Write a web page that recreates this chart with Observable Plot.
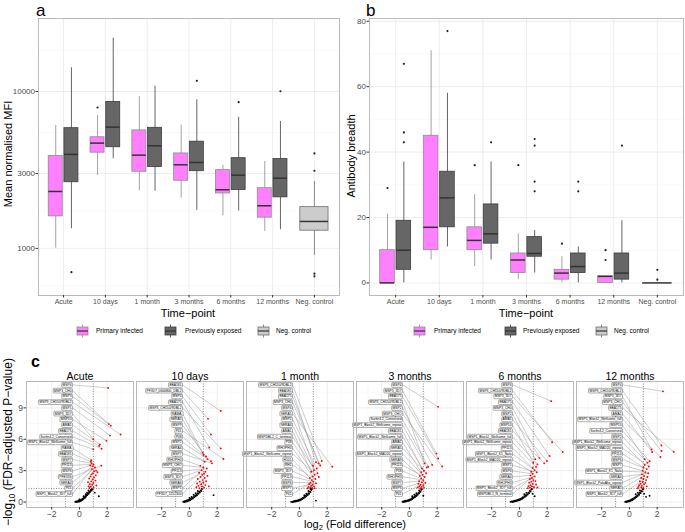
<!DOCTYPE html>
<html><head><meta charset="utf-8">
<script src="https://cdn.jsdelivr.net/npm/d3@7"></script>
<script src="https://cdn.jsdelivr.net/npm/@observablehq/plot@0.6"></script>
<style>
body{margin:0;background:#fff;font-family:"Liberation Sans",Arial,sans-serif;}
#root{position:relative;width:685px;height:532px;overflow:hidden;background:#fff;}
#root > svg{position:absolute;}
</style></head><body><div id="root"></div>
<script>
// ---------- Data: panels a & b ----------
const timepoints = ["Acute","10 days","1 month","3 months","6 months","12 months","Neg. control"];
const groups = ["Primary infected","Previously exposed","Neg. control"];
const groupFill = ["#ff80ff","#666666","#cccccc"];
const groupStroke = ["#8c8c8c","#3d3d3d","#6e6e6e"];

// [lower whisker, Q1, median, Q3, upper whisker] per time-point (Acute..12 months)
const mfiPrimary = [[1004,1600,2306,3890,6070],[2918,4075,4690,5110,7030],[2330,3080,3930,5650,9290],[2090,2700,3410,4030,6110],[1615,2240,2365,3155,3380],[1283,1570,1870,2420,3580]];
const mfiPrimaryOut = [[],[7910],[],[],[],[]];
const mfiExposed = [[1335,2640,3975,5840,14160],[3725,4415,5930,8590,21870],[2316,3300,4510,5870,10810],[1745,3105,3530,4790,8850],[1730,2355,2930,3760,6850],[1316,2115,2805,3710,6440]];
const mfiExposedOut = [[706],[],[],[11700],[8550],[10040]];
const mfiNeg = [902,1297,1485,1832,2675];
const mfiNegOut = [4030,3125,690,664];

const breadthPrimary = [[0,0,0,10,21],[7,10,17,45,71],[5,10,13,17,27],[1,3,7,9,15],[0,1,3,4,8],[0,0,2,2,2]];
const breadthPrimaryOut = [[29],[],[36],[36],[12],[10,7]];
const breadthExposed = [[0,4,10,19,37],[11,17,26,34,58],[7,12,15,24,37],[3,8,9,14,16],[0,3,5,9,11],[0,1,3,9,19]];
const breadthExposedOut = [[43,46,67],[77],[43],[28,31,42,44],[28,31],[42]];
const breadthNeg = [0,0,0,0,0];
const breadthNegOut = [4,1];

// ---------- Data: panel c ----------
const volcanoPanels = ["Acute","10 days","1 month","3 months","6 months","12 months"];
const redAcute = [[2.07,10.9],[2.12,7.45],[2.26,7.3],[2.97,6.45],[2.2,6.35],[1.0,6.0],[1.95,5.85],[1.47,5.5],[1.42,5.35],[1.6,5.1],[1.0,5.05],[0.85,4.0],[0.82,3.85],[0.88,3.7],[1.02,3.6],[1.58,3.48],[0.78,3.5],[0.95,3.42],[1.12,3.3],[0.9,3.15],[1.2,3.0],[1.05,2.95],[1.3,2.85],[0.98,2.75],[0.86,2.65],[1.18,2.55],[0.8,2.45],[1.05,2.35],[0.7,2.25],[0.95,2.15],[1.15,2.05],[0.85,1.98],[0.62,1.9],[1.0,1.82],[0.75,1.72],[0.92,1.65],[1.22,1.58],[0.66,1.52],[0.82,1.46],[1.02,1.4],[0.72,1.35]];
const blackAcute = [[-0.3,0.02],[-0.25,0.05],[-0.2,0.0],[-0.15,0.08],[-0.1,0.03],[-0.05,0.12],[0.0,0.06],[0.05,0.15],[0.1,0.1],[0.12,0.22],[0.18,0.18],[0.2,0.3],[0.25,0.25],[0.28,0.38],[0.32,0.33],[0.35,0.45],[0.4,0.4],[0.42,0.55],[0.46,0.5],[0.5,0.62],[0.52,0.7],[0.56,0.66],[0.6,0.78],[0.62,0.85],[0.66,0.8],[0.7,0.92],[0.72,1.0],[0.76,0.95],[0.8,1.08],[0.82,1.15],[0.86,1.1],[0.9,1.22],[0.95,1.2],[0.55,0.9],[0.45,0.75],[0.65,1.1],[0.3,0.55],[1.4,0.55],[1.1,0.9],[0.0,0.25]];
const labelsAcute = ["MSP4","MSP3_CH0","MSP3","MSP3_CH150/9DBL2","MSP1","MSP3_3D7","MSP10","AMA1","EBA175","Surfin4.2_Conserved","MSP1_Block2_Wellcome_full","RAMA","EBA181","MSP7","PF113","MSP6","PFEX36","SERA4","P41","MSP1_Block2_3D7_full"];

const red10d = [[2.26,8.7],[1.34,7.95],[1.55,6.45],[1.43,5.22],[2.26,5.13],[0.95,4.7],[1.02,4.5],[1.2,4.35],[2.45,4.12],[1.31,4.1],[1.55,3.9],[1.1,3.85],[1.62,3.7],[0.79,3.46],[1.0,3.3],[1.25,3.2],[0.88,3.05],[1.15,2.9],[0.7,2.8],[1.05,2.7],[0.92,2.6],[1.3,2.5],[0.8,2.4],[1.1,2.3],[0.6,2.2],[0.95,2.1],[1.2,2.0],[0.75,1.95],[1.0,1.85],[0.55,1.78],[0.85,1.7],[1.15,1.62],[0.65,1.55],[1.4,1.5],[0.9,1.48],[0.5,1.42],[1.05,1.38],[0.72,1.33]];
const black10d = [[-0.45,0.02],[-0.4,0.06],[-0.35,0.0],[-0.3,0.1],[-0.25,0.04],[-0.2,0.15],[-0.15,0.08],[-0.1,0.2],[-0.05,0.12],[0.0,0.25],[0.05,0.18],[0.1,0.32],[0.15,0.27],[0.2,0.4],[0.25,0.35],[0.3,0.5],[0.35,0.45],[0.4,0.6],[0.45,0.55],[0.5,0.72],[0.55,0.65],[0.6,0.85],[0.65,0.8],[0.7,0.98],[0.75,0.92],[0.8,1.12],[0.85,1.05],[0.9,1.25],[0.45,0.85],[0.3,0.7],[0.6,1.05],[1.74,0.66],[0.15,0.5],[0.0,0.4]];
const labels10d = ["EBA181","PF3D7_0606800_DBL2","MSP4","EBA175","MSP3_CH150/9DBL2","RAMA","SERA5","MSP9","P41","P38","MSP2","SERA4","MSP7","RHOPH3","MSP3_CHO","PF113","MSP3_3D7","SERA6","MSP1","PF3D7_1252300"];

const red1m = [[1.61,3.93],[1.2,3.8],[1.38,3.69],[1.5,3.5],[0.98,3.48],[2.37,3.37],[1.25,3.2],[1.05,3.05],[0.85,2.9],[1.3,2.75],[1.1,2.6],[0.95,2.45],[1.4,2.4],[0.75,2.3],[1.15,2.2],[0.9,2.1],[1.0,1.95],[0.8,1.85],[1.2,1.8],[0.7,1.72],[0.95,1.65],[0.85,1.55],[1.05,1.5],[0.65,1.45],[0.78,1.4],[0.92,1.36],[1.1,1.33],[0.6,1.32]];
const black1m = [[-0.6,0.02],[-0.5,0.0],[-0.45,0.06],[-0.4,0.03],[-0.35,0.1],[-0.3,0.05],[-0.25,0.12],[-0.2,0.08],[-0.15,0.15],[-0.1,0.1],[-0.05,0.2],[0.0,0.15],[0.05,0.25],[0.1,0.2],[0.15,0.32],[0.2,0.28],[0.25,0.4],[0.3,0.36],[0.35,0.5],[0.4,0.45],[0.45,0.6],[0.5,0.55],[0.55,0.72],[0.6,0.68],[0.65,0.85],[0.7,0.8],[0.75,1.0],[0.8,0.95],[0.85,1.15],[0.9,1.25],[1.19,0.14],[0.5,0.8],[0.35,0.65],[0.65,1.05],[0.8,1.25]];
const labels1m = ["MSP3_CH150/9DBL2","EBA181","EBA175","MSP3_CH0","MSP4","SERA5","MSP1","SERA4","AMA1","MSPDBL2_C_terminal","P38","RHOPH3","MSP1_Block2_Wellcome_repeat","H101","RH1","MSP3_3D7","PF113","MSP6","MSP7","P41"];

const red3m = [[2.07,9.1],[1.95,4.63],[2.07,4.16],[1.1,3.7],[1.64,3.55],[2.36,3.4],[1.36,3.38],[1.25,3.3],[0.9,3.2],[1.05,3.0],[0.85,2.85],[1.2,2.75],[0.95,2.6],[0.75,2.5],[1.1,2.4],[0.85,2.25],[1.0,2.1],[0.7,2.0],[0.9,1.9],[1.15,1.85],[0.65,1.75],[0.8,1.65],[1.0,1.6],[0.72,1.5],[0.88,1.45],[0.6,1.4],[1.05,1.38],[0.78,1.33]];
const black3m = [[-0.5,0.02],[-0.45,0.06],[-0.4,0.0],[-0.35,0.1],[-0.3,0.04],[-0.25,0.12],[-0.2,0.07],[-0.15,0.16],[-0.1,0.1],[-0.05,0.2],[0.0,0.14],[0.05,0.26],[0.1,0.2],[0.15,0.34],[0.2,0.28],[0.25,0.42],[0.3,0.38],[0.35,0.52],[0.4,0.47],[0.45,0.62],[0.5,0.58],[0.55,0.74],[0.6,0.7],[0.65,0.88],[0.7,0.84],[0.75,1.02],[0.8,0.98],[0.85,1.18],[0.9,1.22],[0.5,0.85],[0.35,0.7],[0.7,1.1],[1.0,0.6],[0.2,0.55]];
const labels3m = ["MSP4","MSP3_3D7","EBA175","MSP3_CH150/9DBL2","MSP2","MSP3_CHO","Surfin4.2_Conserved","MSP1_Block2_Wellcome_repeat","EBA181","MSP1_Block2_Wellcome_full","AMA1","SERA5","MSP1_Block2_MAD20_repeat","SERA9","PF113","P38","RHOPH3","MSP7","MSP6","P41"];

const red6m = [[2.29,9.64],[2.36,5.72],[3.12,4.78],[2.17,4.4],[1.45,4.2],[1.14,4.1],[1.98,3.93],[1.0,3.75],[1.79,3.7],[1.3,3.6],[1.2,3.35],[0.95,3.25],[1.1,3.05],[0.85,2.9],[1.25,2.85],[0.95,2.7],[0.8,2.55],[1.1,2.45],[0.9,2.3],[0.75,2.2],[1.0,2.1],[1.15,2.0],[0.85,1.95],[0.7,1.85],[0.95,1.75],[1.2,1.68],[0.8,1.6],[0.65,1.52],[0.9,1.48],[1.05,1.42],[1.3,1.4],[0.75,1.38],[0.6,1.33]];
const black6m = [[-0.64,0.02],[-0.55,0.05],[-0.5,0.0],[-0.45,0.08],[-0.4,0.04],[-0.35,0.12],[-0.3,0.07],[-0.25,0.16],[-0.2,0.1],[-0.15,0.2],[-0.1,0.14],[-0.05,0.25],[0.0,0.18],[0.05,0.3],[0.1,0.25],[0.15,0.38],[0.2,0.32],[0.25,0.46],[0.3,0.4],[0.35,0.55],[0.4,0.5],[0.45,0.65],[0.5,0.6],[0.55,0.76],[0.6,0.72],[0.65,0.9],[0.7,0.85],[0.75,1.05],[0.8,1.0],[0.85,1.2],[0.9,1.25],[0.5,0.9],[0.35,0.75],[1.1,0.55],[0.95,0.8]];
const labels6m = ["MSP4","MSP3_CH150/9DBL2","MSP3_3D7","EBA175","MSP3_CH0","MSP2","AMA1","MSP10","EBA181","MSP1_Block2_Wellcome_full","MSP1_Block2_Wellcome_repeat","PF113","MSP1_Block2_K1_Nala","MSP1_Block2_MAD20_repeat","MSP1","MSP6","SERA4","RHOPH3","MSP1_Block2_3D7_full","MSPDBL1_N_terminal"];

const red12m = [[2.42,10.58],[2.31,5.41],[1.59,5.03],[2.31,4.88],[3.19,4.81],[1.64,4.78],[2.24,4.31],[1.11,4.1],[1.45,3.9],[1.3,3.75],[1.1,3.55],[1.4,3.4],[1.0,3.3],[1.25,3.15],[0.95,3.0],[1.15,2.85],[1.35,2.75],[0.9,2.65],[1.05,2.5],[1.3,2.4],[0.85,2.3],[1.0,2.2],[1.2,2.1],[0.75,2.0],[0.95,1.92],[1.15,1.85],[0.8,1.75],[1.05,1.7],[0.7,1.6],[0.9,1.55],[1.25,1.5],[0.65,1.45],[0.85,1.4],[1.0,1.35],[0.6,1.32]];
const black12m = [[-0.31,0.02],[-0.25,0.05],[-0.2,0.0],[-0.15,0.09],[-0.1,0.04],[-0.05,0.13],[0.0,0.08],[0.05,0.18],[0.1,0.12],[0.15,0.24],[0.2,0.18],[0.25,0.32],[0.3,0.26],[0.35,0.42],[0.4,0.36],[0.45,0.52],[0.5,0.47],[0.55,0.64],[0.6,0.58],[0.65,0.76],[0.7,0.7],[0.75,0.9],[0.8,0.85],[0.85,1.05],[0.9,1.0],[0.95,1.2],[1.0,1.25],[0.6,0.9],[0.45,0.75],[0.75,1.1],[1.2,0.5],[1.05,0.8],[1.45,0.6]];
const labels12m = ["MSP4","MSP3_CH150/9DBL2","MSP3_3D7","MSP3_CHO","EBA175","AMA1","MSP1_Block2_Wellcome_full","MSP10","Surfin4.2_Conserved","MSP2","MSP1_Block2_Wellcome_repeat","MSP1_Block2_MAD20_repeat","PF113","MSP6","MSP7","MSP1_Block2_K1_Nala","SERA4","MSP1_Block2_PaloAlto_repeat","SERA5","MSP1_Block2_3D7_full"];

// ---------- Helpers ----------
const FONT = "Liberation Sans, Arial, sans-serif";
const root = document.getElementById("root");
function place(el, left, top){ el.style.left = left + "px"; el.style.top = top + "px"; root.appendChild(el); return el; }
const minus = d => d < 0 ? "\u2212" + (-d) : String(d);

const groupOffset = [-0.1875, 0.1875, 0];
const groupHalf = [0.1675, 0.1675, 0.3375];
function boxRows(primary, primaryOut, exposed, exposedOut, neg, negOut){
  const rows = [], outs = [];
  const add = (t, g, s, o) => {
    const c = t + groupOffset[g];
    rows.push({t, g, c, x1: c - groupHalf[g], x2: c + groupHalf[g], lo: s[0], q1: s[1], med: s[2], q3: s[3], hi: s[4]});
    o.forEach(v => outs.push({c, v}));
  };
  primary.forEach((s, t) => add(t, 0, s, primaryOut[t]));
  exposed.forEach((s, t) => add(t, 1, s, exposedOut[t]));
  add(6, 2, neg, negOut);
  return {rows, outs};
}

function boxChart({data, yOpts, yMajor, yMinor, marginLeft, marginRight, tickFmt}){
  const {rows, outs} = data;
  return Plot.plot({
    width: 345, height: 312, marginTop: 18, marginBottom: 17, marginLeft, marginRight,
    style: {fontFamily: FONT, background: "transparent", overflow: "visible"},
    x: {domain: [-0.6, 6.6]},
    y: yOpts,
    marks: [
      Plot.ruleY(yMinor, {stroke: "#f2f2f2", strokeWidth: 0.5}),
      Plot.ruleY(yMajor, {stroke: "#ebebeb", strokeWidth: 0.9}),
      Plot.ruleX(d3.range(7), {stroke: "#ebebeb", strokeWidth: 0.9}),
      Plot.ruleX(rows, {x: "c", y1: "lo", y2: "hi", stroke: d => groupStroke[d.g], strokeWidth: 0.8}),
      Plot.rect(rows, {x1: "x1", x2: "x2", y1: "q1", y2: "q3", fill: d => groupFill[d.g], stroke: d => groupStroke[d.g], strokeWidth: 0.8}),
      Plot.ruleY(rows, {x1: "x1", x2: "x2", y: "med", stroke: "#333333", strokeWidth: 1.5}),
      Plot.dot(outs, {x: "c", y: "v", r: 1.1, fill: "#222", stroke: null}),
      Plot.frame({stroke: "#b3b3b3", strokeWidth: 0.9}),
      Plot.axisX(d3.range(7), {tickFormat: i => timepoints[i], fontSize: 7, tickSize: 2.5, tickPadding: 1.5, label: null, stroke: "#333", fill: "#4d4d4d"}),
      Plot.axisY(yMajor, {tickFormat: tickFmt, fontSize: 8, tickSize: 2.5, tickPadding: 1, label: null, stroke: "#333", fill: "#4d4d4d"})
    ]
  });
}

// ---------- Panel a ----------
const chartA = boxChart({
  data: boxRows(mfiPrimary, mfiPrimaryOut, mfiExposed, mfiExposedOut, mfiNeg, mfiNegOut),
  yOpts: {type: "log", domain: [501, 29200]},
  yMajor: [1000, 3000, 10000], yMinor: [576, 1733, 5480, 18250],
  marginLeft: 38, marginRight: 6, tickFmt: d => String(d)
});
place(chartA, 0, 0);

// ---------- Panel b ----------
const chartB = boxChart({
  data: boxRows(breadthPrimary, breadthPrimaryOut, breadthExposed, breadthExposedOut, breadthNeg, breadthNegOut),
  yOpts: {domain: [-3.85, 80.85]},
  yMajor: [0, 20, 40, 60, 80], yMinor: [10, 30, 50, 70],
  marginLeft: 29, marginRight: 2, tickFmt: d => String(d)
});
place(chartB, 340, 0);

// ---------- Panel c ----------
const vData = [
  [redAcute, blackAcute, labelsAcute], [red10d, black10d, labels10d], [red1m, black1m, labels1m],
  [red3m, black3m, labels3m], [red6m, black6m, labels6m], [red12m, black12m, labels12m]
];
const redPts = [], blackPts = [], labelRows = [];
const LABEL_X = -0.5;
vData.forEach(([red, black, names], p) => {
  const panel = volcanoPanels[p];
  red.forEach(([x, y]) => redPts.push({panel, x, y}));
  black.forEach(([x, y]) => blackPts.push({panel, x, y}));
  const top = red.slice().sort((a, b) => b[1] - a[1]).slice(0, names.length);
  names.forEach((name, i) => labelRows.push({panel, name, ly: 11.2 - i * (10.43 / 19), x: top[i][0], y: top[i][1]}));
});
const labelSet = new Set(labelRows.map(d => d.name));

const chartC = Plot.plot({
  width: 685, height: 172, marginTop: 21, marginBottom: 25, marginLeft: 25, marginRight: 1,
  style: {fontFamily: FONT, background: "transparent", overflow: "visible"},
  fx: {domain: volcanoPanels, paddingInner: 0.028, paddingOuter: 0},
  x: {domain: [-3.82, 3.9]},
  y: {domain: [-0.52, 11.52]},
  marks: [
    Plot.ruleX([-3, -1, 1, 3], {stroke: "#f2f2f2", strokeWidth: 0.5}),
    Plot.ruleX([-2, 0, 2], {stroke: "#ebebeb", strokeWidth: 0.9}),
    Plot.ruleY([1.5, 4.5, 7.5, 10.5], {stroke: "#f2f2f2", strokeWidth: 0.5}),
    Plot.ruleY([0, 3, 6, 9], {stroke: "#ebebeb", strokeWidth: 0.9}),
    Plot.ruleX([-1, 1], {stroke: "#444", strokeWidth: 0.6, strokeDasharray: "1,1.5"}),
    Plot.ruleY([-Math.log10(0.05)], {stroke: "#444", strokeWidth: 0.6, strokeDasharray: "1,1.5"}),
    Plot.dot(blackPts, {fx: "panel", x: "x", y: "y", r: 0.95, fill: "black", stroke: null}),
    Plot.link(labelRows, {fx: "panel", x1: () => LABEL_X, y1: "ly", x2: "x", y2: "y", stroke: "#9a9a9a", strokeWidth: 0.5}),
    Plot.dot(redPts, {fx: "panel", x: "x", y: "y", r: 0.95, fill: "red", stroke: null}),
    Plot.text(labelRows, {fx: "panel", x: () => LABEL_X, y: "ly", text: "name", fontSize: 3.3, textAnchor: "end", dx: -1, fill: "black"}),
    Plot.frame({stroke: "#b3b3b3", strokeWidth: 0.9}),
    Plot.axisFx({anchor: "top", fontSize: 10.5, tickSize: 0, tickPadding: 2, label: null, fill: "black"}),
    Plot.axisX([-2, 0, 2], {tickFormat: minus, fontSize: 8.5, tickSize: 2.5, tickPadding: 0.5, label: null, stroke: "#333", fill: "#4d4d4d"}),
    Plot.axisY([0, 3, 6, 9], {fontSize: 8.5, tickSize: 2.5, tickPadding: 1, label: null, stroke: "#333", fill: "#4d4d4d"})
  ]
});
place(chartC, 0, 360);

// boxes behind the repel-style labels
chartC.querySelectorAll("text").forEach(t => {
  if (!labelSet.has(t.textContent)) return;
  if (parseFloat(getComputedStyle(t).fontSize) > 5) return;
  const b = t.getBBox();
  const r = document.createElementNS("http://www.w3.org/2000/svg", "rect");
  r.setAttribute("x", b.x - 0.8); r.setAttribute("y", b.y - 0.35);
  r.setAttribute("width", b.width + 1.6); r.setAttribute("height", b.height + 0.7);
  r.setAttribute("rx", 0.8);
  r.setAttribute("fill", "white"); r.setAttribute("stroke", "#333"); r.setAttribute("stroke-width", "0.4");
  if (t.getAttribute("transform")) r.setAttribute("transform", t.getAttribute("transform"));
  t.parentNode.insertBefore(r, t);
});

// ---------- Overlay: titles, panel letters, legends ----------
const NS = "http://www.w3.org/2000/svg";
const ov = document.createElementNS(NS, "svg");
ov.setAttribute("width", 685); ov.setAttribute("height", 532);
ov.style.fontFamily = FONT; ov.style.pointerEvents = "none";
place(ov, 0, 0);
// parts: [string, dy, isSubscript]
function txt(s, x, y, opts = {}){
  const size = opts.size || 11;
  const t = document.createElementNS(NS, "text");
  t.setAttribute("x", x); t.setAttribute("y", y);
  t.setAttribute("font-size", size);
  t.setAttribute("text-anchor", opts.anchor || "middle");
  t.setAttribute("fill", opts.fill || "black");
  if (opts.weight) t.setAttribute("font-weight", opts.weight);
  if (opts.rotate) t.setAttribute("transform", `rotate(-90 ${x} ${y})`);
  if (Array.isArray(s)) {
    s.forEach(([str, dy, sub]) => {
      const ts = document.createElementNS(NS, "tspan");
      ts.textContent = str;
      if (dy) ts.setAttribute("dy", dy);
      if (sub) ts.setAttribute("font-size", size * 0.7);
      t.appendChild(ts);
    });
  } else t.textContent = s;
  ov.appendChild(t);
  return t;
}
txt("a", 36, 16, {size: 17, anchor: "start"});
txt("b", 366, 16, {size: 17, anchor: "start"});
txt("c", 31, 367, {size: 16, anchor: "start", weight: "bold"});
txt("Mean normalised MFI", 12, 154, {rotate: true});
txt("Antibody breadth", 355, 156, {rotate: true});
txt("Time\u2212point", 188, 317);
txt("Time\u2212point", 526, 317);
txt([["\u2212log", 0, false], ["10", 2.5, true], [" (FDR\u2212adjusted P\u2212value)", -2.5, false]], 12, 442, {rotate: true, size: 12});
txt([["log", 0, false], ["2", 2, true], [" (Fold difference)", -2, false]], 355, 528, {size: 11});

function legend(keysX, textX){
  groups.forEach((g, i) => {
    const x = keysX[i];
    const l = document.createElementNS(NS, "line");
    l.setAttribute("x1", x + 5.5); l.setAttribute("x2", x + 5.5);
    l.setAttribute("y1", 324.5); l.setAttribute("y2", 337.5);
    l.setAttribute("stroke", groupStroke[i]); l.setAttribute("stroke-width", 0.8);
    ov.appendChild(l);
    const r = document.createElementNS(NS, "rect");
    r.setAttribute("x", x); r.setAttribute("y", 327); r.setAttribute("width", 11); r.setAttribute("height", 8);
    r.setAttribute("fill", groupFill[i]); r.setAttribute("stroke", groupStroke[i]); r.setAttribute("stroke-width", 0.8);
    ov.appendChild(r);
    const m = document.createElementNS(NS, "line");
    m.setAttribute("x1", x); m.setAttribute("x2", x + 11); m.setAttribute("y1", 331); m.setAttribute("y2", 331);
    m.setAttribute("stroke", "#333"); m.setAttribute("stroke-width", 1.2);
    ov.appendChild(m);
    txt(g, textX[i], 333.3, {size: 6.5, anchor: "start"});
  });
}
legend([77, 165, 258], [96, 185, 276]);
legend([414, 505, 596], [434, 523, 614]);
</script></body></html>
